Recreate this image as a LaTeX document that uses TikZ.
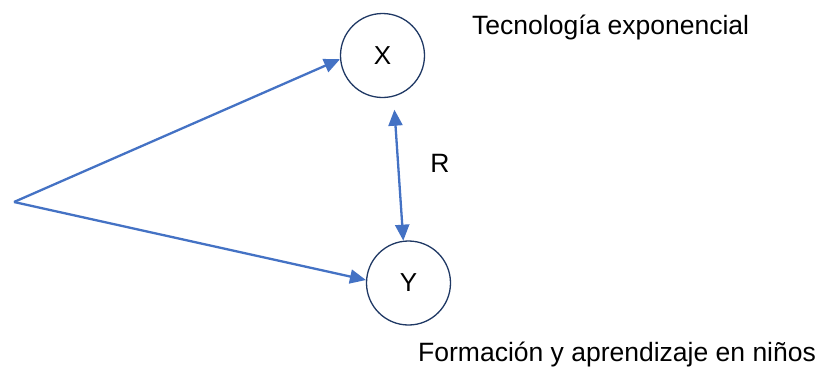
\documentclass[tikz,border=0pt]{standalone}
\usepackage{fontspec}
\setmainfont{Liberation Sans}
\usetikzlibrary{arrows.meta}
\definecolor{lineblue}{HTML}{4472C4}
\definecolor{navy}{HTML}{1F3864}
\begin{document}
\begin{tikzpicture}[x=1pt,y=-1pt,
  varnode/.style={circle,draw=navy,line width=1.3pt,minimum size=84pt,inner sep=0pt,font=\fontsize{26}{30}\selectfont},
  lbl/.style={font=\fontsize{26.5}{30}\selectfont,inner sep=0pt},
  conn/.style={draw=lineblue,line width=2.3pt,-{Triangle[length=16pt,width=14pt]}},
  bconn/.style={draw=lineblue,line width=2.3pt,{Triangle[length=16pt,width=14pt]}-{Triangle[length=16pt,width=14pt]}}]
\useasboundingbox (0,0) rectangle (827,368);
\node[varnode] (X) at (382.5,55.5) {X};
\node[varnode] (Y) at (408.5,283) {Y};
\coordinate (O) at (14,202);
\node[lbl,anchor=west] (tx) at (472,27) {Tecnología exponencial};
\node[lbl,anchor=west] (ty) at (418,354) {Formación y aprendizaje en niños};
\node[lbl] (r) at (440,163) {R};
\draw[conn] (O) -- (X.185);
\draw[conn] (O) -- (Y.176);
\draw[bconn,shorten <=13pt] (X.-75) -- (Y.97);
\end{tikzpicture}
\end{document}
